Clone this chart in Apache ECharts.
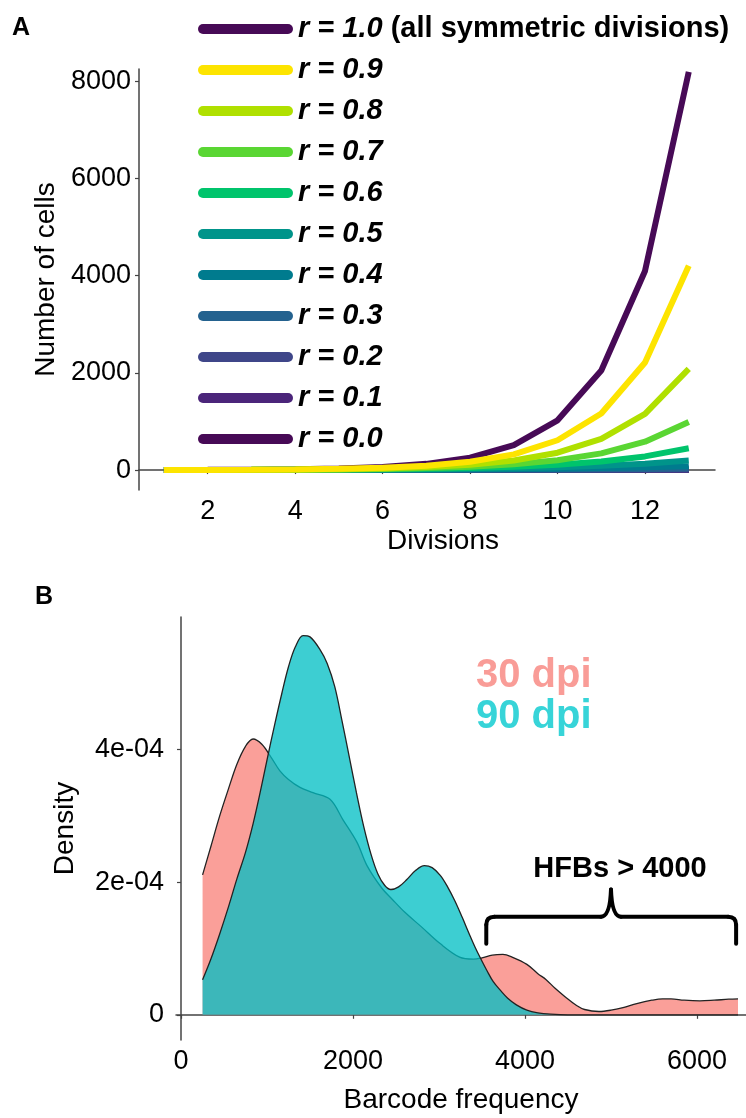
<!DOCTYPE html>
<html>
<head>
<meta charset="utf-8">
<script src="https://cdn.jsdelivr.net/npm/echarts@6/dist/echarts.min.js"></script>
<style>
  html, body { margin: 0; background: #fff; }
  #chart { width: 746px; height: 1118px; }
</style>
</head>
<body>
<div id="chart"></div>
<script>
// ---- panel A : number of cells per division ----
var divisions = [1, 2, 3, 4, 5, 6, 7, 8, 9, 10, 11, 12, 13];
var cellsR10 = [2, 4, 8, 16, 32, 64, 128, 256, 512, 1024, 2048, 4096, 8192];
var cellsR09 = [1.9, 3.6, 6.9, 13, 25, 47, 89, 170, 323, 613, 1165, 2213, 4205];
var cellsR08 = [1.8, 3.2, 5.8, 10.5, 19, 34, 61, 110, 198, 357, 643, 1157, 2082];
var cellsR07 = [1.7, 2.9, 4.9, 8.4, 14, 24, 41, 70, 119, 202, 343, 583, 990];
var cellsR06 = [1.6, 2.6, 4.1, 6.6, 10.5, 17, 27, 43, 69, 110, 176, 281, 450];
var cellsR05 = [1.5, 2.3, 3.4, 5.1, 7.6, 11.4, 17, 26, 38, 58, 87, 130, 195];
var cellsR04 = [1.4, 2.0, 2.7, 3.8, 5.4, 7.5, 10.5, 15, 21, 29, 41, 57, 79];
var cellsR03 = [1.3, 1.7, 2.2, 2.9, 3.7, 4.8, 6.3, 8.2, 10.6, 13.8, 18, 23, 30];
var cellsR02 = [1.2, 1.4, 1.7, 2.1, 2.5, 3.0, 3.6, 4.3, 5.2, 6.2, 7.4, 8.9, 10.7];
var cellsR01 = [1.1, 1.2, 1.3, 1.5, 1.6, 1.8, 1.9, 2.1, 2.4, 2.6, 2.9, 3.1, 3.5];
var cellsR00 = [1, 1, 1, 1, 1, 1, 1, 1, 1, 1, 1, 1, 1];

// drawing order (later = on top) and legend order
var drawNames  = ['r = 1.0', 'r = 0.0', 'r = 0.1', 'r = 0.2', 'r = 0.3', 'r = 0.4',
                  'r = 0.5', 'r = 0.6', 'r = 0.7', 'r = 0.8', 'r = 0.9'];
var drawValues = [cellsR10, cellsR00, cellsR01, cellsR02, cellsR03, cellsR04,
                  cellsR05, cellsR06, cellsR07, cellsR08, cellsR09];
var drawColors = ['#470a56', '#470a56', '#4b257a', '#3f4689', '#24628f', '#007b8e',
                  '#00948a', '#00c46c', '#5ad633', '#b0e000', '#fde400'];
var legendNames = ['r = 1.0', 'r = 0.9', 'r = 0.8', 'r = 0.7', 'r = 0.6', 'r = 0.5',
                   'r = 0.4', 'r = 0.3', 'r = 0.2', 'r = 0.1', 'r = 0.0'];
var cellTicks = [0, 2000, 4000, 6000, 8000];
var divisionTicks = [2, 4, 6, 8, 10, 12];

// ---- panel B : barcode frequency density ----
var freq30 = [251, 350, 450, 550, 650, 750, 838, 940, 1050, 1150, 1250, 1384, 1535, 1733,
              1884, 2047, 2163, 2330, 2458, 2600, 2793, 3017, 3240, 3400, 3500, 3620, 3743,
              3850, 4022, 4150, 4246, 4350, 4469, 4600, 4693, 4860, 5000, 5140, 5300, 5475,
              5600, 5698, 5850, 6034, 6200, 6369, 6477];
var dens30 = [2.11, 2.55, 3.0, 3.4, 3.78, 4.05, 4.16, 4.08, 3.88, 3.68, 3.55, 3.43, 3.35, 3.25,
              2.94, 2.6, 2.25, 1.92, 1.74, 1.55, 1.33, 1.07, 0.87, 0.84, 0.86, 0.9, 0.91,
              0.87, 0.76, 0.62, 0.53, 0.4, 0.27, 0.14, 0.08, 0.05, 0.07, 0.11, 0.17, 0.22,
              0.24, 0.24, 0.22, 0.21, 0.22, 0.235, 0.24];
var freq90 = [251, 350, 450, 550, 650, 750, 838, 920, 1006, 1090, 1173, 1250, 1330, 1420,
              1500, 1620, 1700, 1788, 1870, 1955, 2040, 2123, 2210, 2291, 2370, 2440, 2530,
              2626, 2730, 2830, 2920, 3017, 3100, 3184, 3270, 3352, 3420, 3480, 3560, 3631,
              3720, 3799, 3900, 4022, 4150, 4300, 4500, 5000, 5500, 6000, 6477];
var dens90 = [0.53, 0.85, 1.22, 1.62, 2.05, 2.45, 2.88, 3.35, 3.88, 4.38, 4.85, 5.25, 5.55, 5.72,
              5.7, 5.5, 5.3, 4.95, 4.45, 3.9, 3.35, 2.85, 2.42, 2.12, 1.95, 1.89, 1.93,
              2.04, 2.18, 2.25, 2.22, 2.1, 1.93, 1.72, 1.47, 1.22, 1.02, 0.86, 0.66, 0.5,
              0.36, 0.25, 0.15, 0.07, 0.03, 0.01, 0, 0, 0, 0, 0];
var densUnit = 1e-4;
var densTicks = [0, 2e-4, 4e-4];
var densTickLabels = ['0', '2e-04', '4e-04'];
var freqTicks = [0, 2000, 4000, 6000];

var FONT = '"Liberation Sans", Arial, sans-serif';
var AXIS = '#444';

var chart = echarts.init(document.getElementById('chart'), null, { renderer: 'canvas' });

function pairs(xs, ys, k) {
  return xs.map(function (x, i) { return [x, ys[i] * (k || 1)]; });
}

var seriesA = drawNames.map(function (name, i) {
  return {
    name: name,
    type: 'line',
    xAxisIndex: 0,
    yAxisIndex: 0,
    data: pairs(divisions, drawValues[i]),
    showSymbol: false,
    color: drawColors[i],
    lineStyle: { width: 6, color: drawColors[i] },
    emphasis: { disabled: true }
  };
});

var seriesB = [
  {
    name: '30 dpi', type: 'line', xAxisIndex: 1, yAxisIndex: 1, z: 2,
    data: pairs(freq30, dens30, densUnit),
    smooth: 0.35, showSymbol: false,
    lineStyle: { color: '#222', width: 1.3 },
    areaStyle: { color: '#F8766D', opacity: 0.7 },
    emphasis: { disabled: true }
  },
  {
    name: '90 dpi', type: 'line', xAxisIndex: 1, yAxisIndex: 1, z: 3,
    data: pairs(freq90, dens90, densUnit),
    smooth: 0.35, showSymbol: false,
    lineStyle: { color: '#222', width: 1.3 },
    areaStyle: { color: '#00BFC4', opacity: 0.76 },
    emphasis: { disabled: true }
  }
];

function axisBase() {
  return {
    type: 'value',
    splitLine: { show: false },
    axisLine: { show: true, lineStyle: { color: AXIS, width: 1.5 } },
    axisTick: { show: true, length: 4, lineStyle: { color: AXIS, width: 1.2 } },
    axisLabel: { color: '#000', fontSize: 27, fontFamily: FONT, margin: 8 },
    nameTextStyle: { color: '#000', fontSize: 28, fontFamily: FONT },
    nameLocation: 'middle'
  };
}

var xA = axisBase();
xA.gridIndex = 0; xA.min = 0.43; xA.max = 13.6;
xA.name = 'Divisions'; xA.nameGap = 37;
xA.nameTextStyle.padding = [0, 0, 0, 32];
xA.axisLabel.customValues = divisionTicks;
xA.axisTick.customValues = divisionTicks;

var yA = axisBase();
yA.gridIndex = 0; yA.min = -410; yA.max = 8250;
yA.name = 'Number of cells'; yA.nameGap = 67;
yA.axisLabel.customValues = cellTicks;
yA.axisTick.customValues = cellTicks;
yA.axisLabel.formatter = function (v) { return String(v); };

var xB = axisBase();
xB.gridIndex = 1; xB.min = -58; xB.max = 6570;
xB.name = 'Barcode frequency'; xB.nameGap = 46;
xB.axisLabel.customValues = freqTicks;
xB.axisTick.customValues = freqTicks;
xB.axisLabel.formatter = function (v) { return String(v); };

var yB = axisBase();
yB.gridIndex = 1; yB.min = -0.38e-4; yB.max = 6.0e-4;
yB.name = 'Density'; yB.nameGap = 97;
yB.axisLabel.customValues = densTicks;
yB.axisTick.customValues = densTicks;
yB.axisLabel.margin = 12;
yB.axisLabel.formatter = function (v) {
  var i = densTicks.indexOf(v);
  return i >= 0 ? densTickLabels[i] : '';
};

var option = {
  animation: false,
  backgroundColor: '#fff',
  textStyle: { fontFamily: FONT },
  grid: [
    { left: 139, top: 69, width: 576, height: 421 },
    { left: 176, top: 617, right: 0, height: 423 }
  ],
  xAxis: [xA, xB],
  yAxis: [yA, yB],
  legend: {
    data: legendNames,
    orient: 'vertical',
    left: 193,
    top: 9,
    itemWidth: 95,
    itemHeight: 10,
    itemGap: 11,
    icon: 'path://M5,0L90,0A5,5,0,0,1,90,10L5,10A5,5,0,0,1,5,0Z',
    selectedMode: false,
    formatter: function (name) {
      if (name === 'r = 1.0') return '{i|r = 1.0} {n|(all symmetric divisions)}';
      return '{i|' + name + '}';
    },
    textStyle: {
      color: '#000', fontSize: 29, fontWeight: 'bold', fontStyle: 'italic', lineHeight: 30,
      rich: {
        i: { fontSize: 29, fontWeight: 'bold', fontStyle: 'italic', lineHeight: 30, fontFamily: FONT, color: '#000' },
        n: { fontSize: 29, fontWeight: 'bold', fontStyle: 'normal', lineHeight: 30, fontFamily: FONT, color: '#000' }
      }
    }
  },
  series: seriesA.concat(seriesB)
};

chart.setOption(option);

// annotations for panel B, placed from data coordinates
var pL = chart.convertToPixel({ gridIndex: 1 }, [3550, 1.07e-4]);
var pC = chart.convertToPixel({ gridIndex: 1 }, [5000, 1.48e-4]);
var pTip = chart.convertToPixel({ gridIndex: 1 }, [5000, 1.89e-4]);
var pR = chart.convertToPixel({ gridIndex: 1 }, [6455, 1.07e-4]);
var labelPos = chart.convertToPixel({ gridIndex: 1 }, [5105, 2.2e-4]);

var x0 = pL[0], x1 = pR[0], xc = pC[0];
var yEnd = pL[1], yTop = pC[1], yTip = pTip[1];
var braceStyle = { stroke: '#000', lineWidth: 4, fill: null, lineCap: 'round' };

function seg(ax, ay, bx, by) {
  return { type: 'line', shape: { x1: ax, y1: ay, x2: bx, y2: by }, style: braceStyle };
}
function curve(ax, ay, cx, cy, bx, by) {
  return { type: 'bezierCurve', shape: { x1: ax, y1: ay, cpx1: cx, cpy1: cy, x2: bx, y2: by }, style: braceStyle };
}

chart.setOption({
  graphic: [
    { type: 'text', x: 12, y: 28, style: { text: 'A', font: 'bold 25px ' + FONT, fill: '#000', verticalAlign: 'middle' } },
    { type: 'text', x: 35, y: 597, style: { text: 'B', font: 'bold 25px ' + FONT, fill: '#000', verticalAlign: 'middle' } },
    { type: 'text', x: 476, y: 676, style: { text: '30 dpi', font: 'bold 40px ' + FONT, fill: '#F99C97', verticalAlign: 'middle' } },
    { type: 'text', x: 476, y: 717, style: { text: '90 dpi', font: 'bold 40px ' + FONT, fill: '#37D4D8', verticalAlign: 'middle' } },
    { type: 'text', x: labelPos[0], y: labelPos[1], style: { text: 'HFBs > 4000', font: 'bold 29px ' + FONT, fill: '#000', align: 'center', verticalAlign: 'middle' } },
    seg(x0, yEnd, x0, yTop + 8),
    curve(x0, yTop + 8, x0, yTop, x0 + 8, yTop),
    seg(x0 + 8, yTop, xc - 10, yTop),
    curve(xc - 10, yTop, xc - 1, yTop, xc, yTip),
    curve(xc, yTip, xc + 1, yTop, xc + 10, yTop),
    seg(xc + 10, yTop, x1 - 8, yTop),
    curve(x1 - 8, yTop, x1, yTop, x1, yTop + 8),
    seg(x1, yTop + 8, x1, yEnd)
  ]
});

window.addEventListener('resize', chart.resize);
</script>
</body>
</html>
